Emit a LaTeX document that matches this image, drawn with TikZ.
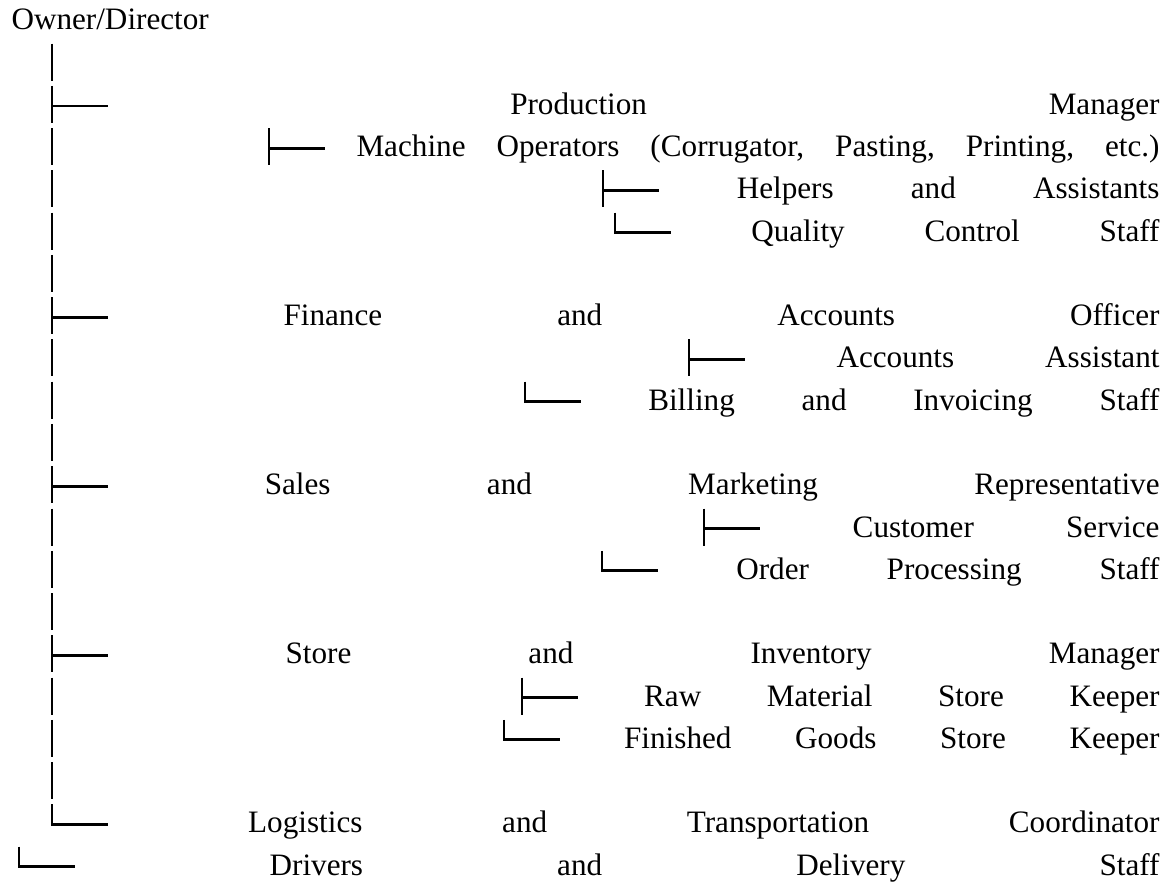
\documentclass[tikz,border=0pt]{standalone}
\usepackage{fontspec}
\setmainfont{Liberation Serif}
\newcommand{\justline}[2]{\hbox to #1{\hskip 21.56pt\hfill #2}}
\tikzset{
  staff/.style={anchor=base west, inner sep=0pt, font=\fontsize{12}{14}\selectfont},
  branch/.style={line width=1pt},
  stem/.pic={\draw[branch] (0,-20) -- (0,17);},
  tee/.pic={\draw[branch] (0,-20) -- (0,17) (0,0) -- (56,0);},
  elbow/.pic={\draw[branch] (0,-20) -- (0,0) -- (56,0);},
}
\begin{document}
\begin{tikzpicture}[x=0.385pt,y=-0.385pt]
\useasboundingbox (0,0) rectangle (1171,884);
\node[staff] (owner) at (11,30) {Owner/Director};
% trunk
\pic at (52,63.75) {stem};
\pic at (52,106) {tee};
\pic at (52,148.25) {stem};
\pic at (52,190.5) {stem};
\pic at (52,232.75) {stem};
\pic at (52,275) {stem};
\pic at (52,317.25) {tee};
\pic at (52,359.5) {stem};
\pic at (52,401.75) {stem};
\pic at (52,444) {stem};
\pic at (52,486.25) {tee};
\pic at (52,528.5) {stem};
\pic at (52,570.75) {stem};
\pic at (52,613) {stem};
\pic at (52,655.25) {tee};
\pic at (52,697.5) {stem};
\pic at (52,739.75) {stem};
\pic at (52,782) {stem};
\pic at (52,824.25) {elbow};
% production
\node[staff] (prod) at (52,114.5) {\justline{426.2pt}{Production\hfill Manager}};
\pic at (269,148.25) {tee};
\node[staff] (machops) at (269,156.75) {\justline{342.65pt}{Machine\hfill Operators\hfill (Corrugator,\hfill Pasting,\hfill Printing,\hfill etc.)}};
\pic at (603,190.5) {tee};
\node[staff] (helpers) at (603,199) {\justline{214.06pt}{Helpers\hfill and\hfill Assistants}};
\pic at (615,232.75) {elbow};
\node[staff] (qc) at (615,241.25) {\justline{209.44pt}{Quality\hfill Control\hfill Staff}};
% finance
\node[staff] (finance) at (52,325.75) {\justline{426.2pt}{Finance\hfill and\hfill Accounts\hfill Officer}};
\pic at (689,359.5) {tee};
\node[staff] (accasst) at (689,368) {\justline{180.95pt}{Accounts\hfill Assistant}};
\pic at (525,401.75) {elbow};
\node[staff] (billing) at (525,410.25) {\justline{244.09pt}{Billing\hfill and\hfill Invoicing\hfill Staff}};
% sales
\node[staff] (sales) at (52,494.75) {\justline{426.2pt}{Sales\hfill and\hfill Marketing\hfill Representative}};
\pic at (704,528.5) {tee};
\node[staff] (custsvc) at (704,537) {\justline{175.18pt}{Customer\hfill Service}};
\pic at (602,570.75) {elbow};
\node[staff] (orders) at (602,579.25) {\justline{214.45pt}{Order\hfill Processing\hfill Staff}};
% store
\node[staff] (store) at (52,663.75) {\justline{426.2pt}{Store\hfill and\hfill Inventory\hfill Manager}};
\pic at (522,697.5) {tee};
\node[staff] (rawkeeper) at (522,706) {\justline{245.25pt}{Raw\hfill Material\hfill Store\hfill Keeper}};
\pic at (504,739.75) {elbow};
\node[staff] (fgkeeper) at (504,748.25) {\justline{252.18pt}{Finished\hfill Goods\hfill Store\hfill Keeper}};
% logistics
\node[staff] (logistics) at (52,832.75) {\justline{426.2pt}{Logistics\hfill and\hfill Transportation\hfill Coordinator}};
\pic at (19,866.5) {elbow};
\node[staff] (drivers) at (19,875) {\justline{438.9pt}{Drivers\hfill and\hfill Delivery\hfill Staff}};
\end{tikzpicture}
\end{document}
